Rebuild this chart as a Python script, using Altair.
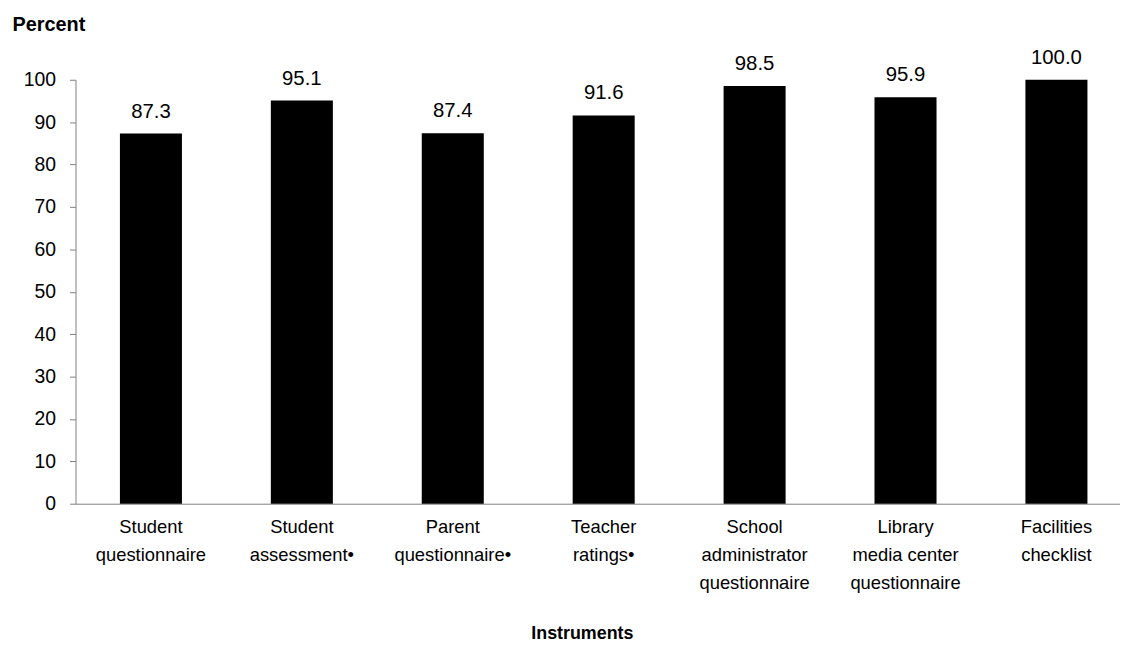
import altair as alt
import pandas as pd

categories = [
    "Student|questionnaire",
    "Student|assessment\u2022",
    "Parent|questionnaire\u2022",
    "Teacher|ratings\u2022",
    "School|administrator|questionnaire",
    "Library|media center|questionnaire",
    "Facilities|checklist",
]
values = [87.3, 95.1, 87.4, 91.6, 98.5, 95.9, 100.0]
y_ticks = [0, 10, 20, 30, 40, 50, 60, 70, 80, 90, 100]

df = pd.DataFrame({"instrument": categories, "percent": values})

FONT = "Liberation Sans"
AXIS_GRAY = "#808080"

x_enc = alt.X(
    "instrument:N",
    sort=None,
    scale=alt.Scale(paddingInner=0.589, paddingOuter=0.255, align=0.577),
    axis=alt.Axis(
        title="Instruments",
        labelAngle=0,
        labelExpr="split(datum.label, '|')",
        ticks=False,
        labelPadding=14,
        labelFontSize=18.5,
        labelLineHeight=28,
        labelColor="black",
        labelOverlap=False,
        labelLimit=300,
        labelBaseline="top",
        domainColor=AXIS_GRAY,
        domainWidth=1,
        titleFontSize=18,
        titleFontWeight="bold",
        titleColor="black",
        titleX=510,
        titleY=136,
        titleAlign="center",
        titleBaseline="alphabetic",
    ),
)

y_enc = alt.Y(
    "percent:Q",
    scale=alt.Scale(domain=[0, 100], nice=False),
    axis=alt.Axis(
        values=y_ticks,
        grid=False,
        tickSize=6,
        tickColor=AXIS_GRAY,
        domainColor=AXIS_GRAY,
        labelPadding=14,
        labelFontSize=19.5,
        labelColor="black",
        title="Percent",
        titleAngle=0,
        titleX=-64,
        titleY=-50,
        titleAlign="left",
        titleBaseline="alphabetic",
        titleFontSize=20,
        titleFontWeight="bold",
        titleColor="black",
    ),
)

bars = alt.Chart(df).mark_bar(color="black").encode(x=x_enc, y=y_enc)

labels = alt.Chart(df).mark_text(
    dy=-16, baseline="alphabetic", fontSize=20.5, font=FONT, color="black"
).encode(
    x=alt.X("instrument:N", sort=None),
    y=alt.Y("percent:Q"),
    text=alt.Text("percent:Q", format=".1f"),
)

chart = (
    alt.layer(bars, labels)
    .properties(
        width=1052,
        height=427,
        autosize=alt.AutoSizeParams(type="none"),
        padding={"left": 68, "top": 70, "right": 0, "bottom": 137},
    )
    .configure(font=FONT)
    .configure_axis(labelFont=FONT, titleFont=FONT)
    .configure_view(stroke=None)
)

chart.save("out.html", embed_options={"renderer": "svg", "actions": False})
